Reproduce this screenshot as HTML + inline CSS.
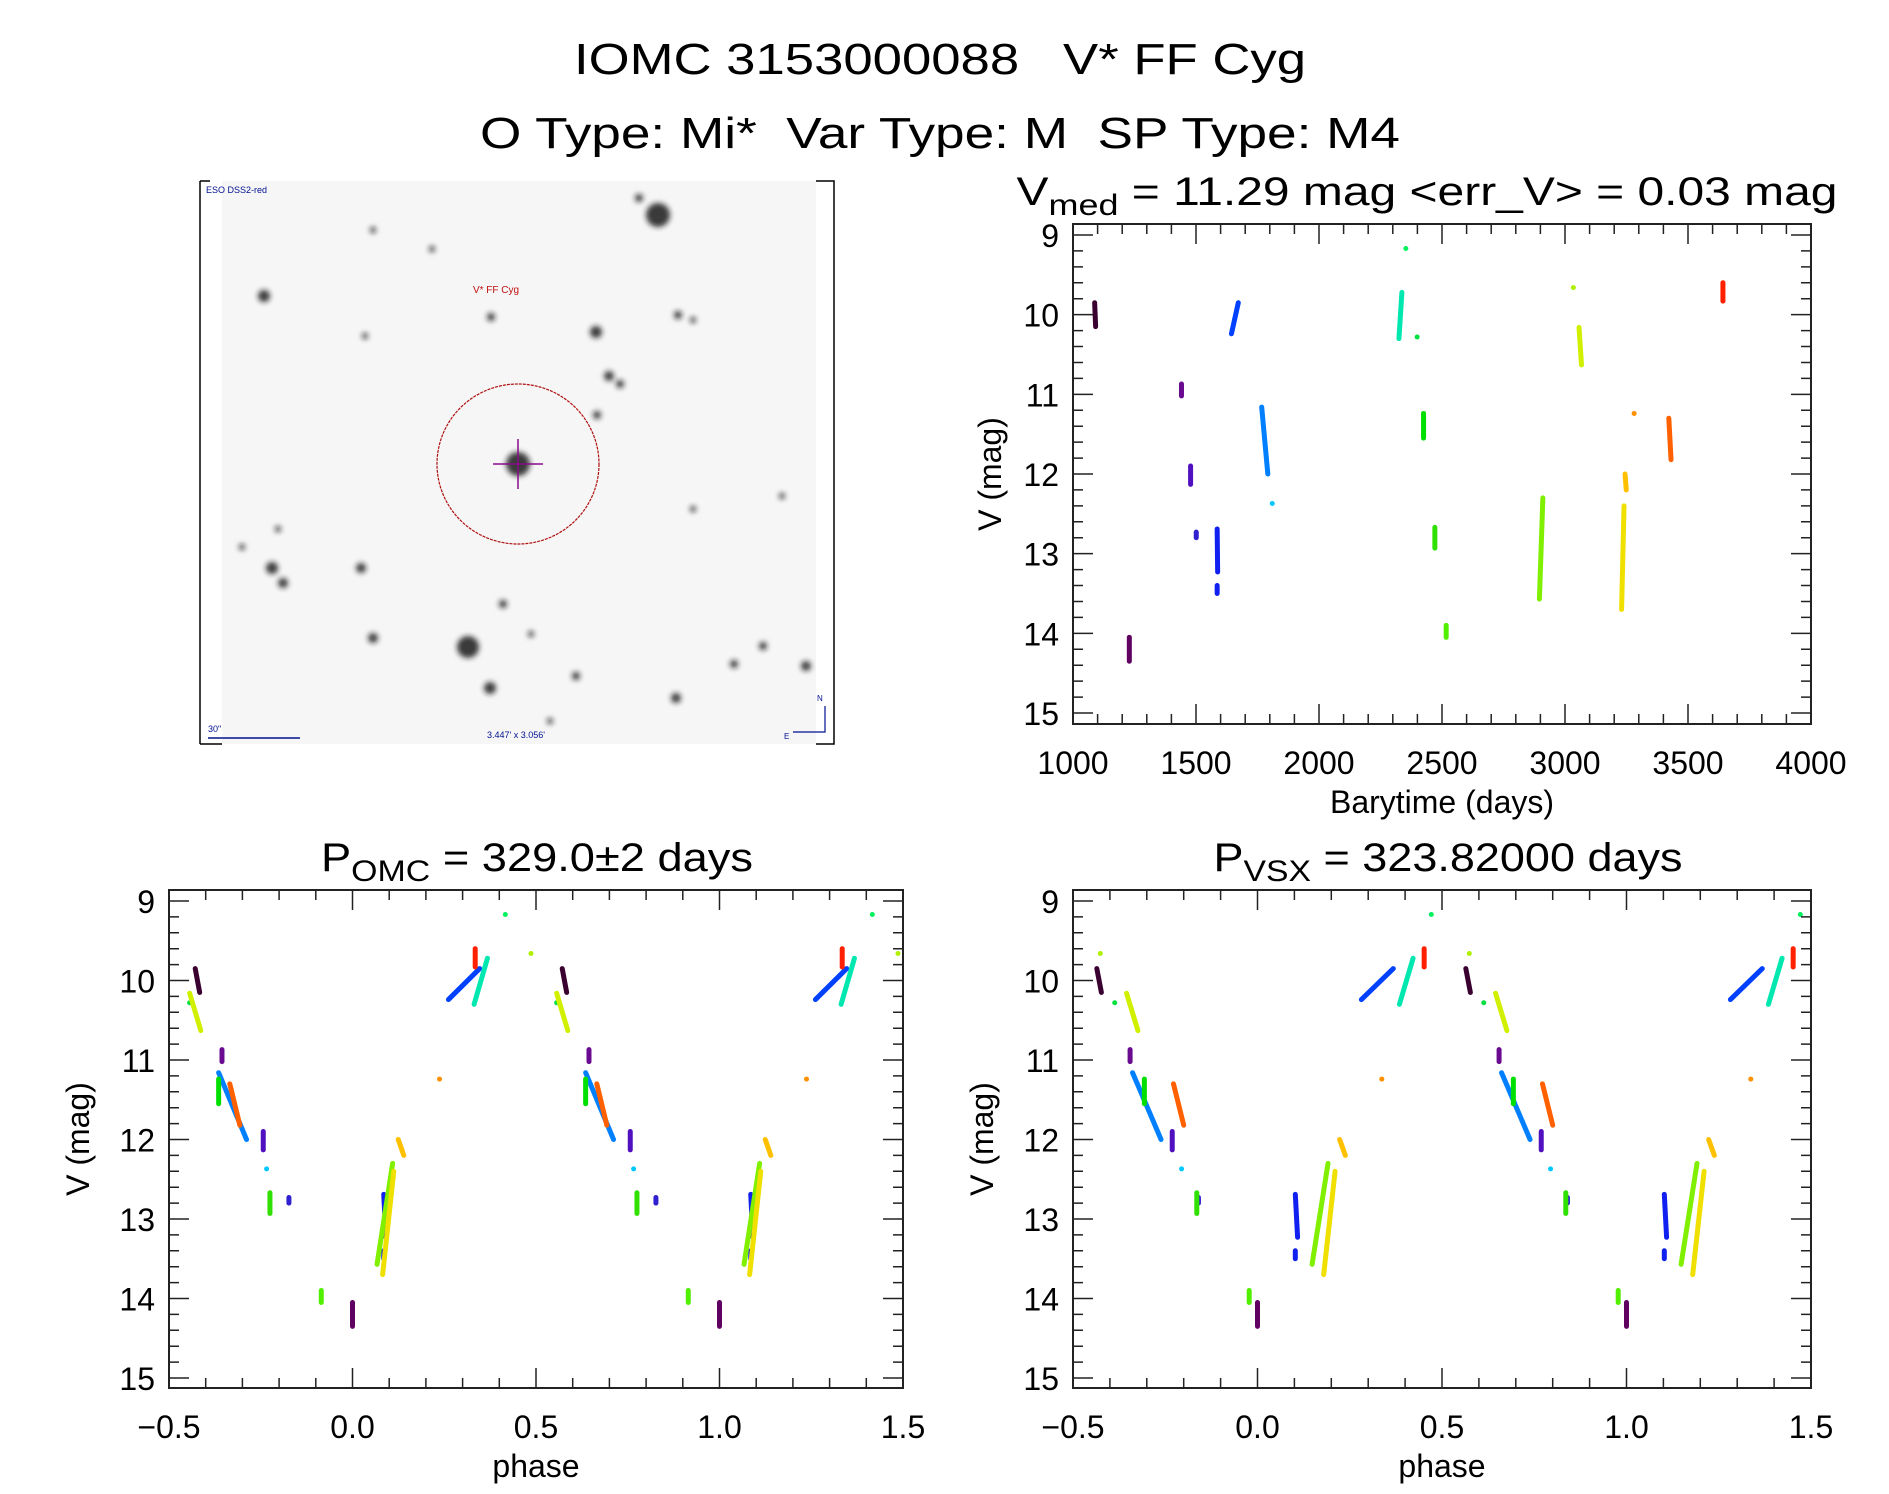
<!DOCTYPE html>
<html><head><meta charset="utf-8">
<style>
html,body{margin:0;padding:0;background:#fff;}
svg{display:block;font-family:"Liberation Sans",sans-serif;}
</style></head>
<body>
<svg id="fig" width="1889" height="1494" viewBox="0 0 1889 1494" xmlns="http://www.w3.org/2000/svg">
<rect width="1889" height="1494" fill="#fff"/>
<text x="940" y="74" font-size="44" text-anchor="middle" textLength="732" lengthAdjust="spacingAndGlyphs" xml:space="preserve" style="white-space:pre">IOMC 3153000088   V* FF Cyg</text>
<text x="940" y="148" font-size="44" text-anchor="middle" textLength="920" lengthAdjust="spacingAndGlyphs" xml:space="preserve" style="white-space:pre">O Type: Mi*  Var Type: M  SP Type: M4</text>

<g>
<defs>
<filter id="bl" x="-1" y="-1" width="3" height="3"><feGaussianBlur stdDeviation="2.6"/></filter>
</defs>
<rect x="222" y="181" width="594" height="563" fill="#f6f6f6"/>
<path d="M200 181 V744 M200 181 H210 M200 744 H222 M816 181 H834 V744 H816" fill="none" stroke="#000" stroke-width="1.5"/>
<g id="stars" filter="url(#bl)" fill="#1a1a1a"></g>
<ellipse cx="518" cy="464" rx="81" ry="80" fill="none" stroke="#b01010" stroke-width="1.2" stroke-dasharray="3 1"/>
<path d="M493 464 H543 M518 439 V489" stroke="#8a0a8a" stroke-width="1.5"/>
<text x="496" y="293" font-size="10" fill="#c01010" text-anchor="middle">V* FF Cyg</text>
<text x="206" y="193" font-size="9" fill="#001090">ESO DSS2-red</text>
<text x="208" y="732" font-size="9" fill="#001090">30"</text>
<path d="M208 738 H300" stroke="#001090" stroke-width="1.5"/>
<text x="516" y="738" font-size="9" fill="#001090" text-anchor="middle">3.447' x 3.056'</text>
<path d="M825 706 V732 H793" stroke="#001090" stroke-width="1.2" fill="none"/>
<text x="817" y="701" font-size="8" fill="#001090">N</text>
<text x="784" y="739" font-size="8" fill="#001090">E</text>
</g>
<g id="plots"></g>
</svg>
<script>
// light-curve segments (time start/end in days, magnitudes start/end)
const segT1 = [1088,1229,1441,1478,1501,1586,1586,1644,1767,1810,2325,2353,2399,2425,2471,2517,2896,3034,3057,3230,3244,3281,3422,3642];
const segT2 = [1092,1229,1441,1478,1501,1588,1586,1672,1792,1810,2337,2353,2399,2425,2471,2517,2910,3034,3067,3240,3249,3281,3431,3642];
const segM1 = [9.85,14.05,10.87,11.90,12.73,12.69,13.40,10.24,11.16,12.37,10.30,9.17,10.28,11.24,12.67,13.90,13.57,9.66,10.16,13.70,12.00,11.24,11.30,9.60];
const segM2 = [10.15,14.35,11.02,12.13,12.80,13.23,13.50,9.85,12.00,12.37,9.72,9.17,10.28,11.55,12.93,14.05,12.30,9.66,10.63,12.40,12.20,11.24,11.82,9.83];
const segColor = ['#3a0030','#600060','#6a0a90','#5010c0','#3020d0','#1020f0','#1020f0','#0040ff','#0080ff','#00c8ff','#00e8b0','#00f060','#00e040','#00e000','#30e000','#50f000','#80f000','#b0f000','#d0f000','#f0e000','#ffc000','#ff9000','#ff6000','#ff2000'];
const periodOMC = 329.0;
const periodVSX = 323.82;
const epoch0 = 1229;
const magTicks = [9,10,11,12,13,14,15];
const timeTicks = [1000,1500,2000,2500,3000,3500,4000];
const phaseTicks = [-0.5,0.0,0.5,1.0,1.5];
const phaseTickLabels = ['\u22120.5','0.0','0.5','1.0','1.5'];

// background stars in sky image: x, y, radius
const starX = [658,264,596,518,468,490,272,283,361,373,609,620,678,693,806,676,576,763,734,693,597,491,365,432,373,503,550,639,242,278,782,531];
const starY = [215,296,332,464,647,688,568,583,568,638,376,384,315,320,666,698,676,646,664,509,415,317,336,249,230,604,721,198,547,529,496,634];
const starR = [12,6,6,12,11,6,6,5,5,5,5,4,4,3,5,5,4,4,4,3,4,4,3,3,3,4,3,4,3,3,3,3];

const NS='http://www.w3.org/2000/svg';
function mk(tag,attrs,parent){const e=document.createElementNS(NS,tag);for(const k in attrs)e.setAttribute(k,attrs[k]);parent.appendChild(e);return e;}

const sg=document.getElementById('stars');
for(let i=0;i<starX.length;i++){
  const c=mk('circle',{cx:starX[i],cy:starY[i],r:starR[i],opacity:0.85},sg);
  
  
}

const root=document.getElementById('plots');
function panel(o){
  const g=mk('g',{},root);
  
  
  const sx=v=>o.x0+(v-o.xmin)/(o.xmax-o.xmin)*(o.x1-o.x0);
  const sy=v=>o.y9+(v-9)/6*(o.y15-o.y9);
  const mg=mk('g',{'stroke-linecap':'round','stroke-width':5},g);
  
  
  for(let i=0;i<segT1.length;i++){
    let xs=[];
    if(o.period){
      let p1=(segT1[i]-epoch0)/o.period, p2=(segT2[i]-epoch0)/o.period;
      let f=Math.floor(p1+0.5); p1-=f; p2-=f;
      xs=[[p1,p2],[p1+1,p2+1]];
    } else xs=[[segT1[i],segT2[i]]];
    xs.forEach(pp=>{
      const l=mk('line',{x1:sx(pp[0]),x2:sx(pp[1]),y1:sy(segM1[i]),y2:sy(segM2[i]),stroke:segColor[i]},mg);
      
      
    });
  }
  const fr=mk('rect',{x:o.x0,y:o.y0,width:o.x1-o.x0,height:o.y1-o.y0,fill:'none',stroke:'#222','stroke-width':2},g);
  
  
  let d='';
  for(let m=9;m<=15.001;m+=0.2){
    const y=sy(m); const major=Math.abs(m-Math.round(m))<1e-6; const L=major?20:10;
    d+=`M${o.x0} ${y}h${L}M${o.x1} ${y}h${-L}`;
  }
  for(let v=o.xmin;v<=o.xmax+1e-6;v+=o.minor){
    const x=sx(v); const major=Math.abs(v/o.major-Math.round(v/o.major))<1e-6; const L=major?20:10;
    d+=`M${x} ${o.y1}v${-L}M${x} ${o.y0}v${L}`;
  }
  mk('path',{d:d,stroke:'#222','stroke-width':1.5,fill:'none'},g);
  magTicks.forEach(m=>{
    const t=mk('text',{x:o.x0-14,y:sy(m)+12,'font-size':32,'text-anchor':'end'},g);
    t.textContent=m;
    
    
  });
  o.xt.forEach((v,i)=>{
    const t=mk('text',{x:sx(v),y:o.y1+50,'font-size':32,'text-anchor':'middle'},g);
    t.textContent=o.xl[i];
    
    
  });
  const xt=mk('text',{x:(o.x0+o.x1)/2,y:o.y1+89,'font-size':32,'text-anchor':'middle'},g);
  xt.textContent=o.xtitle;
  
  
  const yc=(o.y0+o.y1)/2, yx=o.x0-o.ytOff;
  const yt=mk('text',{x:yx,y:yc,'font-size':32,'text-anchor':'middle',transform:`rotate(-90 ${yx} ${yc})`},g);
  yt.textContent='V (mag)';
  
  
  const tt=mk('text',{x:o.tx,y:o.y0-19,'font-size':40,'text-anchor':'middle',textLength:o.tl,lengthAdjust:'spacingAndGlyphs'},g);
  tt.innerHTML=o.title;
  
  
}
panel({name:'time-plot',x0:1073,x1:1811,y0:224,y1:724,y9:235,y15:713,xmin:1000,xmax:4000,major:500,minor:100,
  xt:timeTicks,xl:timeTicks.map(String),xtitle:'Barytime (days)',ytOff:72,tx:1427,tl:821,
  title:'V<tspan font-size="30" dy="10">med</tspan><tspan dy="-10">  =  11.29  mag  &lt;err_V&gt;  =  0.03  mag</tspan>'});
panel({name:'phase-plot-omc',x0:169,x1:903,y0:890,y1:1388,y9:901,y15:1378,xmin:-0.5,xmax:1.5,major:0.5,minor:0.1,period:periodOMC,
  xt:phaseTicks,xl:phaseTickLabels,xtitle:'phase',ytOff:80,tx:537,tl:432,
  title:'P<tspan font-size="30" dy="10">OMC</tspan><tspan dy="-10">  =  329.0\u00b12  days</tspan>'});
panel({name:'phase-plot-vsx',x0:1073,x1:1811,y0:890,y1:1388,y9:901,y15:1378,xmin:-0.5,xmax:1.5,major:0.5,minor:0.1,period:periodVSX,
  xt:phaseTicks,xl:phaseTickLabels,xtitle:'phase',ytOff:80,tx:1448,tl:469,
  title:'P<tspan font-size="30" dy="10">VSX</tspan><tspan dy="-10">  =  323.82000  days</tspan>'});
</script>
</body></html>
